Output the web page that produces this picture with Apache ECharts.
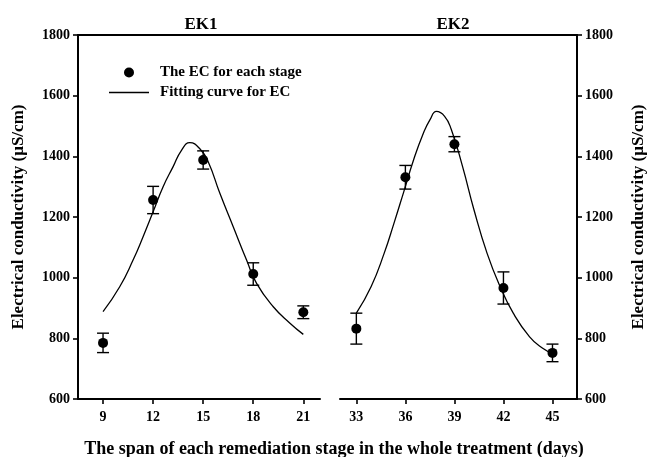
<!DOCTYPE html>
<html>
<head>
<meta charset="utf-8">
<script src="https://cdn.jsdelivr.net/npm/echarts@6/dist/echarts.min.js"></script>
<style>html,body{margin:0;padding:0;background:#fff;}#c{width:648px;height:457px;}</style>
</head>
<body>
<div id="c"></div>
<script>
// ---- data ----
const panelTitles = ['EK1', 'EK2'];
const xTicks1 = [9, 12, 15, 18, 21];
const xTicks2 = [33, 36, 39, 42, 45];
const yTicks = [600, 800, 1000, 1200, 1400, 1600, 1800];
const ek1Mean = [785, 1256, 1388, 1012, 886];
const ek1Err  = [32, 45, 30, 37, 21];
const ek2Mean = [832, 1331, 1440, 966, 752];
const ek2Err  = [51, 39, 25, 53, 29];
const fit1X = [9, 10, 10.8, 11.4, 12, 12.6, 13.2, 13.7, 14.2, 14.8, 15.3, 16, 16.8, 17.6, 18.2, 19.2, 20.2, 21];
const fit1Y = [888, 970, 1058, 1135, 1217, 1300, 1366, 1420, 1445, 1425, 1382, 1278, 1168, 1058, 981, 904, 850, 813];
const fit2X = [33, 33.9, 34.7, 35.3, 35.9, 36.5, 37.1, 37.5, 37.9, 38.4, 38.8, 39.5, 40.2, 41, 41.8, 42.6, 43.6, 44.4, 45];
const fit2Y = [883, 970, 1080, 1179, 1283, 1388, 1476, 1520, 1548, 1532, 1490, 1366, 1223, 1080, 970, 883, 805, 767, 750];
const legendNames = ['The EC for each stage', 'Fitting curve for EC'];
const yName = 'Electrical conductivity (\u03bcS/cm)';
const xName = 'The span of each remediation stage in the whole treatment (days)';

// ---- build ----
const FONT = 'Liberation Serif';
const zip = (a, b) => a.map((v, i) => [v, b[i]]);
const errData = (xs, m, e) => xs.map((x, i) => [x, m[i] - e[i], m[i] + e[i]]);

const G = [{left: 78, top: 35, width: 242, height: 364}, {left: 340, top: 35, width: 241, height: 364}];

function errSeries(xi, data) {
  return {
    type: 'custom', xAxisIndex: xi, yAxisIndex: xi, z: 2, silent: true,
    encode: {x: 0, y: [1, 2]},
    data: data,
    renderItem: function (params, api) {
      const x = api.value(0);
      const lo = api.coord([x, api.value(1)]);
      const hi = api.coord([x, api.value(2)]);
      const w = 6;
      const st = {stroke: '#000', lineWidth: 1.4};
      return {type: 'group', children: [
        {type: 'line', shape: {x1: lo[0], y1: lo[1], x2: hi[0], y2: hi[1]}, style: st},
        {type: 'line', shape: {x1: lo[0] - w, y1: lo[1], x2: lo[0] + w, y2: lo[1]}, style: st},
        {type: 'line', shape: {x1: hi[0] - w, y1: hi[1], x2: hi[0] + w, y2: hi[1]}, style: st}
      ]};
    }
  };
}

const axisLineStyle = {show: true, lineStyle: {color: '#000', width: 2}};
const tickStyle = {show: true, length: 5, lineStyle: {color: '#000', width: 1.6}};
const labelStyle = {color: '#000', fontFamily: FONT, fontWeight: 'bold', fontSize: 14, formatter: v => String(v)};

function xAx(gi, min, max, ticks) {
  return {
    type: 'value', gridIndex: gi, min: min, max: max, position: 'bottom',
    axisLine: axisLineStyle, splitLine: {show: false},
    axisTick: Object.assign({}, tickStyle, {customValues: ticks}),
    axisLabel: Object.assign({}, labelStyle, {customValues: ticks, margin: 11})
  };
}
function xTop(gi, min, max) {
  return {
    type: 'value', gridIndex: gi, min: min, max: max, position: 'top',
    axisLine: axisLineStyle, axisTick: {show: false}, axisLabel: {show: false}, splitLine: {show: false}
  };
}
function yAx(gi, pos, gap) {
  return {
    type: 'value', gridIndex: gi, min: yTicks[0], max: yTicks[yTicks.length - 1], interval: 200,
    position: pos,
    axisLine: axisLineStyle, splitLine: {show: false}, axisTick: tickStyle,
    axisLabel: Object.assign({}, labelStyle, {margin: 8}),
    name: yName, nameLocation: 'middle', nameRotate: 90, nameGap: gap,
    nameTextStyle: {color: '#000', fontFamily: FONT, fontWeight: 'bold', fontSize: 17}
  };
}

const option = {
  animation: false,
  backgroundColor: '#fff',
  title: [
    {text: panelTitles[0], left: 196, top: 11, textAlign: 'center',
     textStyle: {fontFamily: FONT, fontWeight: 'bold', fontSize: 17, color: '#000'}},
    {text: panelTitles[1], left: 448, top: 11, textAlign: 'center',
     textStyle: {fontFamily: FONT, fontWeight: 'bold', fontSize: 17, color: '#000'}},
    {text: xName, left: 329, top: 435, textAlign: 'center',
     textStyle: {fontFamily: FONT, fontWeight: 'bold', fontSize: 18, color: '#000'}}
  ],
  legend: {
    orient: 'vertical', left: 109, top: 65, padding: 0, itemWidth: 40, itemHeight: 10, itemGap: 5,
    textStyle: {fontFamily: FONT, fontWeight: 'bold', fontSize: 15, color: '#000', padding: [0, 0, 0, 6]},
    data: [
      {name: legendNames[0], icon: 'circle'},
      {name: legendNames[1], icon: 'path://M0,0H40V1.3H0Z'}
    ]
  },
  grid: G,
  xAxis: [xAx(0, 7.5, 22, xTicks1), xAx(1, 32, 46.5, xTicks2), xTop(0, 7.5, 22), xTop(1, 32, 46.5)],
  yAxis: [yAx(0, 'left', 51), yAx(1, 'right', 53)],
  graphic: [
    {type: 'line', z: 10, shape: {x1: G[0].left + G[0].width - 1, y1: G[0].top, x2: G[1].left + 1, y2: G[1].top},
     style: {stroke: '#000', lineWidth: 2}}
  ],
  series: [
    {name: legendNames[1], type: 'line', xAxisIndex: 0, yAxisIndex: 0, data: zip(fit1X, fit1Y),
     smooth: 0.5, symbol: 'none', lineStyle: {color: '#000', width: 1.3}, itemStyle: {color: '#000'}, z: 1},
    {name: legendNames[1], type: 'line', xAxisIndex: 1, yAxisIndex: 1, data: zip(fit2X, fit2Y),
     smooth: 0.5, symbol: 'none', lineStyle: {color: '#000', width: 1.3}, itemStyle: {color: '#000'}, z: 1},
    errSeries(0, errData(xTicks1, ek1Mean, ek1Err)),
    errSeries(1, errData(xTicks2, ek2Mean, ek2Err)),
    {name: legendNames[0], type: 'scatter', xAxisIndex: 0, yAxisIndex: 0, data: zip(xTicks1, ek1Mean),
     symbol: 'circle', symbolSize: 10, itemStyle: {color: '#000', opacity: 1}, z: 3},
    {name: legendNames[0], type: 'scatter', xAxisIndex: 1, yAxisIndex: 1, data: zip(xTicks2, ek2Mean),
     symbol: 'circle', symbolSize: 10, itemStyle: {color: '#000', opacity: 1}, z: 3}
  ]
};

const chart = echarts.init(document.getElementById('c'), null, {renderer: 'canvas'});
chart.setOption(option);
</script>
</body>
</html>
